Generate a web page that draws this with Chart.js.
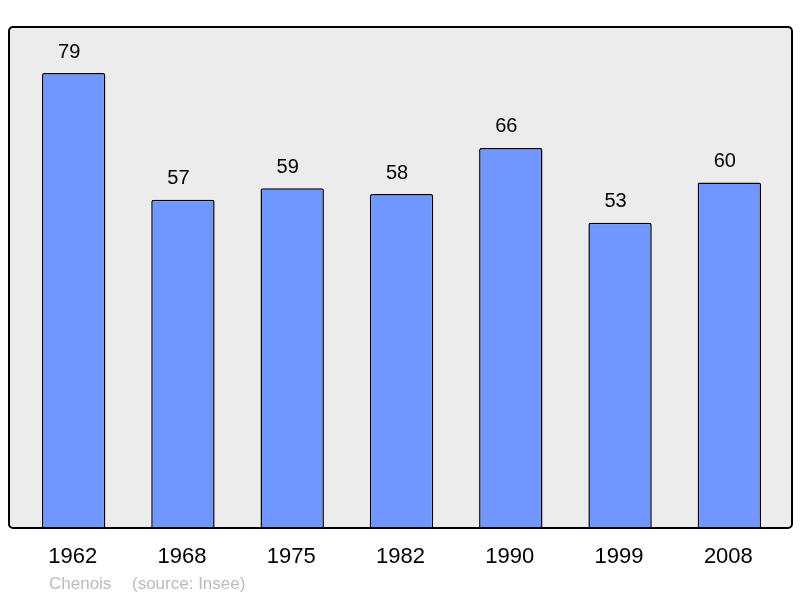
<!DOCTYPE html>
<html>
<head>
<meta charset="utf-8">
<script src="https://cdn.jsdelivr.net/npm/chart.js@4"></script>
<style>
  html, body { margin: 0; padding: 0; background: #ffffff; }
  #chart { display: block; }
</style>
</head>
<body>
<canvas id="chart" width="800" height="598"></canvas>
<script>
// Data
const years = ['1962', '1968', '1975', '1982', '1990', '1999', '2008'];
const population = [79, 57, 59, 58, 66, 53, 60];
const commune = 'Chenois';
const sourceText = '(source: Insee)';
// End data

const FONT = '"Liberation Sans", Arial, sans-serif';

const framePlugin = {
    id: 'frame',
    beforeDraw(chart) {
        const ctx = chart.ctx;
        const a = chart.chartArea;
        ctx.save();
        ctx.fillStyle = '#ececec';
        ctx.beginPath();
        ctx.roundRect(a.left - 10, a.top, a.right - a.left + 18, a.bottom - a.top, 4);
        ctx.fill();
        ctx.restore();
    },
    afterDraw(chart) {
        const ctx = chart.ctx;
        const a = chart.chartArea;
        const x = chart.scales.x;
        const y = chart.scales.y;
        ctx.save();
        ctx.strokeStyle = '#000000';
        ctx.lineWidth = 2;
        ctx.beginPath();
        ctx.roundRect(a.left - 10, a.top, a.right - a.left + 18, a.bottom - a.top, 4);
        ctx.stroke();

        ctx.fillStyle = '#000000';
        ctx.textAlign = 'center';
        ctx.textBaseline = 'middle';
        ctx.font = '20px ' + FONT;
        population.forEach((v, i) => {
            ctx.fillText(String(v), x.getPixelForValue(i) - 4.5, y.getPixelForValue(v) - 21);
        });

        ctx.font = '22px ' + FONT;
        years.forEach((yr, i) => {
            ctx.fillText(yr, x.getPixelForValue(i) - 1, a.bottom + 29);
        });

        ctx.fillStyle = '#bbbbbb';
        ctx.textAlign = 'left';
        ctx.font = '17px ' + FONT;
        ctx.fillText(commune, 49, a.bottom + 56);
        ctx.fillText(sourceText, 132, a.bottom + 56);
        ctx.restore();
    }
};

new Chart(document.getElementById('chart'), {
    type: 'bar',
    data: {
        labels: years,
        datasets: [{
            data: population,
            backgroundColor: '#7096ff',
            borderColor: '#000000',
            borderWidth: 1.5,
            borderRadius: 2,
            borderSkipped: 'bottom',
            barPercentage: 0.58,
            categoryPercentage: 1
        }]
    },
    options: {
        responsive: false,
        animation: false,
        layout: {
            padding: { left: 19, right: 16, top: 27, bottom: 70 }
        },
        plugins: {
            legend: { display: false },
            tooltip: { enabled: false }
        },
        scales: {
            x: { display: false },
            y: { display: false, min: 0, max: 87 }
        }
    },
    plugins: [framePlugin]
});
</script>
</body>
</html>
